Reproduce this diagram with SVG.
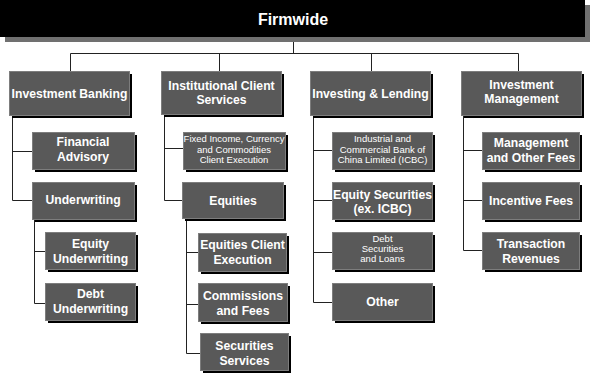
<svg xmlns="http://www.w3.org/2000/svg" width="590" height="374" viewBox="0 0 590 374">
<style>
.sh{fill:#000}
.bx{fill:#595959;stroke:#7d7d7d;stroke-width:1}
.t{font-family:"Liberation Sans",Arial,sans-serif;font-weight:bold;font-size:12.2px;fill:#fff;text-anchor:middle}
.s{font-family:"Liberation Sans",Arial,sans-serif;font-size:9.5px;fill:#fff;text-anchor:middle}
.c{fill:none;stroke:#222;stroke-width:1}
</style>
<rect x="0" y="0" width="590" height="374" fill="#fff"/>
<g id="connectors">
<path class="c" d="M293.5 37V53.5M70.5 53.5H518.5M70.5 53.5V71M219.5 53.5V71M371.5 53.5V71M518.5 53.5V71"/>
<path class="c" d="M12.5 115V200.5M12.5 151.5H32M12.5 200.5H32M34.5 219V303.5M34.5 251.5H45M34.5 303.5H45"/>
<path class="c" d="M164.5 114V200.5M164.5 148.5H183M164.5 200.5H182M186.5 218V353.5M186.5 252.5H198M186.5 304.5H198M186.5 353.5H200"/>
<path class="c" d="M313.5 115V302.5M313.5 150.5H332M313.5 200.5H332M313.5 252.5H332M313.5 302.5H332"/>
<path class="c" d="M463.5 115V250.5M463.5 150.5H482M463.5 200.5H482M463.5 250.5H482"/>
</g>
<g id="firmwide">
<rect x="5" y="5" width="585" height="37" fill="#707070"/>
<rect x="0" y="0" width="585" height="37" fill="#000"/>
<text x="293" y="25" class="t" style="font-size:16px">Firmwide</text>
</g>
<g id="investment-banking">
<rect class="sh" x="12" y="74" width="120" height="44"/>
<rect class="bx" x="9.5" y="71.5" width="120" height="44"/>
<text class="t" x="69.5" y="97.5">Investment Banking</text>
</g>
<g id="institutional-client-services">
<rect class="sh" x="164" y="74" width="120" height="43"/>
<rect class="bx" x="161.5" y="71.5" width="120" height="43"/>
<text class="t" x="221.5" y="90">Institutional Client</text>
<text class="t" x="221.5" y="104">Services</text>
</g>
<g id="investing-lending">
<rect class="sh" x="313" y="74" width="120" height="44"/>
<rect class="bx" x="310.5" y="71.5" width="120" height="44"/>
<text class="t" x="370.5" y="97.5">Investing &amp; Lending</text>
</g>
<g id="investment-management">
<rect class="sh" x="464" y="74" width="120" height="44"/>
<rect class="bx" x="461.5" y="71.5" width="120" height="44"/>
<text class="t" x="521.5" y="89">Investment</text>
<text class="t" x="521.5" y="103">Management</text>
</g>
<g id="financial-advisory">
<rect class="sh" x="35" y="135" width="102" height="37"/>
<rect class="bx" x="32.5" y="132.5" width="102" height="37"/>
<text class="t" x="83" y="146">Financial</text>
<text class="t" x="83" y="160.5">Advisory</text>
</g>
<g id="underwriting">
<rect class="sh" x="35" y="185" width="102" height="37"/>
<rect class="bx" x="32.5" y="182.5" width="102" height="37"/>
<text class="t" x="83" y="204">Underwriting</text>
</g>
<g id="equity-underwriting">
<rect class="sh" x="48" y="235" width="90" height="37"/>
<rect class="bx" x="45.5" y="232.5" width="90" height="37"/>
<text class="t" x="90.5" y="248">Equity</text>
<text class="t" x="90.5" y="263">Underwriting</text>
</g>
<g id="debt-underwriting">
<rect class="sh" x="48" y="286" width="90" height="37"/>
<rect class="bx" x="45.5" y="283.5" width="90" height="37"/>
<text class="t" x="90.5" y="298">Debt</text>
<text class="t" x="90.5" y="313">Underwriting</text>
</g>
<g id="ficc">
<rect class="sh" x="186" y="135" width="102" height="37"/>
<rect class="bx" x="183.5" y="132.5" width="102" height="37"/>
<text class="s" x="234" y="142">Fixed Income, Currency</text>
<text class="s" x="234" y="152.5">and Commodities</text>
<text class="s" x="234" y="163">Client Execution</text>
</g>
<g id="equities">
<rect class="sh" x="185" y="185" width="101" height="36"/>
<rect class="bx" x="182.5" y="182.5" width="101" height="36"/>
<text class="t" x="233" y="204.5">Equities</text>
</g>
<g id="equities-client-execution">
<rect class="sh" x="201" y="236" width="88" height="38"/>
<rect class="bx" x="198.5" y="233.5" width="88" height="38"/>
<text class="t" x="242.5" y="249">Equities Client</text>
<text class="t" x="242.5" y="263.5">Execution</text>
</g>
<g id="commissions-fees">
<rect class="sh" x="201" y="286" width="89" height="38"/>
<rect class="bx" x="198.5" y="283.5" width="89" height="38"/>
<text class="t" x="243" y="300">Commissions</text>
<text class="t" x="243" y="314.5">and Fees</text>
</g>
<g id="securities-services">
<rect class="sh" x="203" y="336" width="88" height="37"/>
<rect class="bx" x="200.5" y="333.5" width="88" height="37"/>
<text class="t" x="244.5" y="350">Securities</text>
<text class="t" x="244.5" y="364.5">Services</text>
</g>
<g id="icbc">
<rect class="sh" x="335" y="135" width="100" height="37"/>
<rect class="bx" x="332.5" y="132.5" width="100" height="37"/>
<text class="s" x="382.5" y="142">Industrial and</text>
<text class="s" x="382.5" y="152.5">Commercial Bank of</text>
<text class="s" x="382.5" y="163">China Limited (ICBC)</text>
</g>
<g id="equity-securities">
<rect class="sh" x="335" y="185" width="100" height="37"/>
<rect class="bx" x="332.5" y="182.5" width="100" height="37"/>
<text class="t" x="382.5" y="198.5">Equity Securities</text>
<text class="t" x="382.5" y="212.5">(ex. ICBC)</text>
</g>
<g id="debt-securities-loans">
<rect class="sh" x="335" y="235" width="100" height="37"/>
<rect class="bx" x="332.5" y="232.5" width="100" height="37"/>
<text class="s" x="382.5" y="242">Debt</text>
<text class="s" x="382.5" y="252">Securities</text>
<text class="s" x="382.5" y="262">and Loans</text>
</g>
<g id="other">
<rect class="sh" x="335" y="286" width="100" height="37"/>
<rect class="bx" x="332.5" y="283.5" width="100" height="37"/>
<text class="t" x="382.5" y="306">Other</text>
</g>
<g id="management-other-fees">
<rect class="sh" x="485" y="135" width="97" height="37"/>
<rect class="bx" x="482.5" y="132.5" width="97" height="37"/>
<text class="t" x="531" y="147">Management</text>
<text class="t" x="531" y="161.5">and Other Fees</text>
</g>
<g id="incentive-fees">
<rect class="sh" x="485" y="185" width="97" height="37"/>
<rect class="bx" x="482.5" y="182.5" width="97" height="37"/>
<text class="t" x="531" y="204.5">Incentive Fees</text>
</g>
<g id="transaction-revenues">
<rect class="sh" x="485" y="235" width="97" height="37"/>
<rect class="bx" x="482.5" y="232.5" width="97" height="37"/>
<text class="t" x="531" y="248">Transaction</text>
<text class="t" x="531" y="263">Revenues</text>
</g>
</svg>
